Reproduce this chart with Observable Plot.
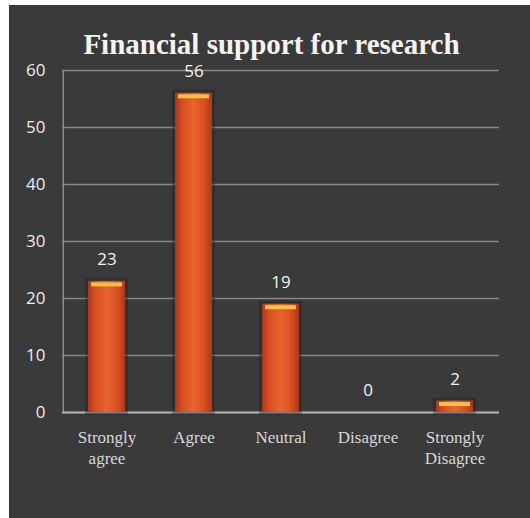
<!DOCTYPE html>
<html>
<head>
<meta charset="utf-8">
<script src="https://cdn.jsdelivr.net/npm/d3@7"></script>
<script src="https://cdn.jsdelivr.net/npm/@observablehq/plot@0.6"></script>
<style>
  html, body { margin: 0; padding: 0; background: #ffffff; }
  #wrap { position: absolute; left: 9px; top: 5px; width: 521px; height: 513px; background: #393a39; overflow: hidden; }
  #title { position: absolute; left: 0; top: 25px; width: 521px; text-align: center; font-family: "Liberation Serif", "DejaVu Serif", serif; font-weight: bold; font-size: 29px; line-height: 1; color: #f4f4f4; padding-left: 4px; box-sizing: border-box; }
  #chart { position: absolute; left: 0; top: 0; }
</style>
</head>
<body>
<div id="wrap">
  <div id="chart"></div>
  <div id="title">Financial support for research</div>
</div>
<script>
const categories = ["Strongly agree", "Agree", "Neutral", "Disagree", "Strongly Disagree"];
const tickLabels = ["Strongly\nagree", "Agree", "Neutral", "Disagree", "Strongly\nDisagree"];
const values = [23, 56, 19, 0, 2];
const yTicks = [0, 10, 20, 30, 40, 50, 60];

const data = categories.map((c, i) => ({category: c, value: values[i]}));
const labelOf = new Map(categories.map((c, i) => [c, tickLabels[i]]));
const nonZero = data.filter(d => d.value > 0);

const chart = Plot.plot({
  width: 521,
  height: 513,
  marginLeft: 53,
  marginRight: 31,
  marginTop: 65,
  marginBottom: 106,
  style: {background: "transparent", color: "#e6e6e6"},
  x: {domain: categories, paddingInner: 0.58, paddingOuter: 0.29, label: null},
  y: {domain: [0, 60], label: null},
  marks: [
    Plot.gridY(yTicks, {stroke: "#9a9a9a", strokeOpacity: 0.8, strokeWidth: 1.5}),
    Plot.ruleX([categories[0]], {dx: -43.7, stroke: "#8c8c8c", strokeWidth: 1.5}),
    Plot.ruleY([0], {stroke: "#b0b0b0", strokeWidth: 2}),
    Plot.barY(nonZero, {x: "category", y: "value", fill: "#1c1c1c", inset: -3, fillOpacity: 0.35}),
    Plot.barY(nonZero, {x: "category", y: "value", fill: "url(#barGrad)"}),
    Plot.tickY(nonZero, {x: "category", y: "value", stroke: "#f4c24a", strokeWidth: 4, dy: 3, inset: 3}),
    Plot.axisY(yTicks, {tickSize: 0, tickPadding: 17, fontSize: 17, fill: "#ececec", fontFamily: "'Open Sans', 'DejaVu Sans', sans-serif", label: null}),
    Plot.axisX({tickSize: 0, tickPadding: 15, fontSize: 17, fill: "#d8d8d8", fontFamily: "'Liberation Serif', 'DejaVu Serif', serif", tickFormat: d => labelOf.get(d), lineHeight: 1.25, label: null}),
    Plot.text(data, {x: "category", y: "value", text: d => String(d.value), dy: -22, fontSize: 17, fill: "#f2f2f2", fontFamily: "'Open Sans', 'DejaVu Sans', sans-serif"})
  ]
});

const ns = "http://www.w3.org/2000/svg";
const defs = document.createElementNS(ns, "defs");
defs.innerHTML = `<linearGradient id="barGrad" x1="0" x2="1" y1="0" y2="0">
  <stop offset="0" stop-color="#a8381a"/>
  <stop offset="0.2" stop-color="#d94e22"/>
  <stop offset="0.5" stop-color="#e8642e"/>
  <stop offset="0.8" stop-color="#d94e22"/>
  <stop offset="1" stop-color="#a8381a"/>
</linearGradient>`;
chart.insertBefore(defs, chart.firstChild);
document.getElementById("chart").appendChild(chart);
</script>
</body>
</html>
